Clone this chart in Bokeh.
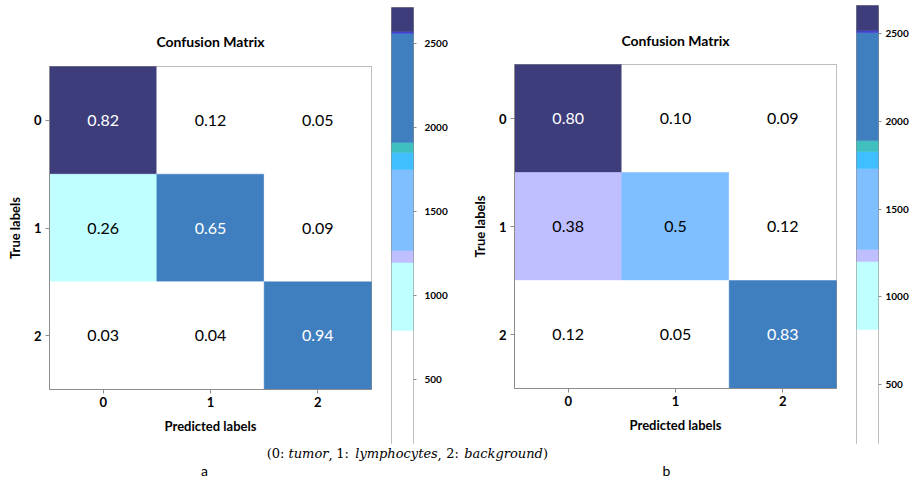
from bokeh.plotting import figure
from bokeh.layouts import row, column
from bokeh.models import Range1d, Label, FixedTicker, ColumnDataSource
from bokeh.core.properties import value
from bokeh.embed import file_html
from bokeh.resources import INLINE

# ---------------- data ----------------
classes = [0, 1, 2]
true_idx = [0, 0, 0, 1, 1, 1, 2, 2, 2]
pred_idx = [0, 1, 2, 0, 1, 2, 0, 1, 2]

a_values = ["0.82", "0.12", "0.05", "0.26", "0.65", "0.09", "0.03", "0.04", "0.94"]
b_values = ["0.80", "0.10", "0.09", "0.38", "0.5", "0.12", "0.12", "0.05", "0.83"]

NAVY = "#3e3d7c"
STEEL = "#3f7fbf"
TEAL = "#3fbfbf"
SKY = "#3fbfff"
LIGHT = "#7fbfff"
LAV = "#bfbfff"
CYAN = "#bfffff"
WHITE = "#ffffff"
EDGE = "#4242d2"

a_cell_colors = [NAVY, WHITE, WHITE, CYAN, STEEL, WHITE, WHITE, WHITE, STEEL]
b_cell_colors = [NAVY, WHITE, WHITE, LAV, LIGHT, WHITE, WHITE, WHITE, STEEL]

cbar_colors = [WHITE, CYAN, LAV, LIGHT, SKY, TEAL, STEEL, EDGE, NAVY]
a_cbar_bounds = [116, 795, 1199, 1271, 1753, 1854, 1914, 2562, 2574, 2717]
b_cbar_bounds = [158, 813, 1201, 1269, 1731, 1828, 1890, 2505, 2517, 2660]
cbar_ticks = [500, 1000, 1500, 2000, 2500]

title_text = "Confusion Matrix"
x_label = "Predicted labels"
y_label = "True labels"

caption_pieces = ["(0:", "tumor", ",", "1:", "lymphocytes", ",", "2:", "background", ")"]
caption_italic = [False, True, False, False, True, False, False, True, False]
panel_letters = ["a", "b"]

GRAY = "#8c8c8c"
FONT = "Lato"
ROW_H = 444


def heatmap(values, colors, width, lb, rb, tb, bb, standoff):
    p = figure(width=width, height=ROW_H, x_range=Range1d(-0.5, 2.5), y_range=Range1d(2.5, -0.5),
               output_backend="svg", toolbar_location=None,
               min_border_left=lb, min_border_right=rb, min_border_top=tb, min_border_bottom=bb)
    dark = {NAVY, STEEL}
    src = ColumnDataSource(dict(x=pred_idx, y=true_idx, c=colors, t=values,
                                tc=["white" if c in dark else "black" for c in colors]))
    p.rect(x="x", y="y", width=1, height=1, fill_color="c", line_color="c", line_width=0.5, source=src)
    p.text(x="x", y="y", text="t", text_color="tc", text_align="center", text_baseline="middle",
           text_font=value(FONT), text_font_size="16px", source=src)
    p.xgrid.visible = False
    p.ygrid.visible = False
    p.outline_line_color = GRAY
    for ax in (p.xaxis[0], p.yaxis[0]):
        ax.ticker = FixedTicker(ticks=classes)
        ax.major_label_text_font = FONT
        ax.major_label_text_font_style = "bold"
        ax.major_label_text_font_size = "13px"
        ax.major_label_text_color = "black"
        ax.axis_label_text_font = FONT
        ax.axis_label_text_font_style = "bold"
        ax.axis_label_text_font_size = "13px"
        ax.axis_label_text_color = "black"
        ax.axis_line_color = GRAY
        ax.major_tick_line_color = GRAY
        ax.minor_tick_line_color = None
        ax.major_tick_in = 0
        ax.major_tick_out = 4
    p.xaxis.axis_label = x_label
    p.yaxis.axis_label = y_label
    p.xaxis.major_label_standoff = 3
    p.xaxis.axis_label_standoff = 8
    p.yaxis.major_label_standoff = 4
    p.yaxis.axis_label_standoff = 8
    p.title.text = title_text
    p.title.align = "center"
    p.title.text_font = FONT
    p.title.text_font_style = "bold"
    p.title.text_font_size = "14px"
    p.title.text_color = "black"
    p.title.standoff = standoff
    return p


def colorbar(bounds, width, tb, rb, standoff):
    cb = figure(width=width, height=ROW_H, x_range=Range1d(0, 1), y_range=Range1d(bounds[0], bounds[-1]),
                output_backend="svg", toolbar_location=None, y_axis_location="right",
                min_border_left=10, min_border_right=rb, min_border_top=tb, min_border_bottom=0)
    cb.quad(left=0, right=1, bottom=bounds[:-1], top=bounds[1:], fill_color=cbar_colors,
            line_color=cbar_colors, line_width=0.5)
    cb.xaxis.visible = False
    cb.xgrid.visible = False
    cb.ygrid.visible = False
    cb.outline_line_color = GRAY
    ax = cb.yaxis[0]
    ax.ticker = FixedTicker(ticks=cbar_ticks)
    ax.major_label_text_font = FONT
    ax.major_label_text_font_style = "bold"
    ax.major_label_text_font_size = "10px"
    ax.major_label_text_color = "black"
    ax.axis_line_color = None
    ax.major_tick_line_color = GRAY
    ax.minor_tick_line_color = None
    ax.major_tick_in = 0
    ax.major_tick_out = 3
    ax.major_label_standoff = standoff
    return cb


pa = heatmap(a_values, a_cell_colors, 381, 49, 10, 66, 55, 33)
ca = colorbar(a_cbar_bounds, 84, 7, 52, 8)
pb = heatmap(b_values, b_cell_colors, 381, 49, 10, 64, 56, 31)
cbb = colorbar(b_cbar_bounds, 66, 5, 34, 4)

# bottom strip with caption and panel letters (page coordinates)
bt = figure(width=912, height=34, x_range=Range1d(0, 912), y_range=Range1d(482, 448),
            output_backend="svg", toolbar_location=None, min_border=0)
bt.axis.visible = False
bt.grid.visible = False
bt.outline_line_color = None

caption_x = [275, 308, 330, 342, 396, 439, 452, 503, 545]
for txt, it, xx in zip(caption_pieces, caption_italic, caption_x):
    bt.add_layout(Label(x=xx, y=457, text=txt, text_align="center", text_baseline="alphabetic",
                        text_font="DejaVu Serif", text_font_style="italic" if it else "normal",
                        text_font_size="13px", text_color="black"))

panel_x = [204, 666]
for txt, xx in zip(panel_letters, panel_x):
    bt.add_layout(Label(x=xx, y=474, text=txt, text_align="center", text_baseline="alphabetic",
                        text_font=FONT, text_font_size="14px", text_color="black"))

layout = column(row(column(pa), column(ca), column(pb), column(cbb)), bt)
open("out.html", "w").write(file_html(layout, INLINE))
